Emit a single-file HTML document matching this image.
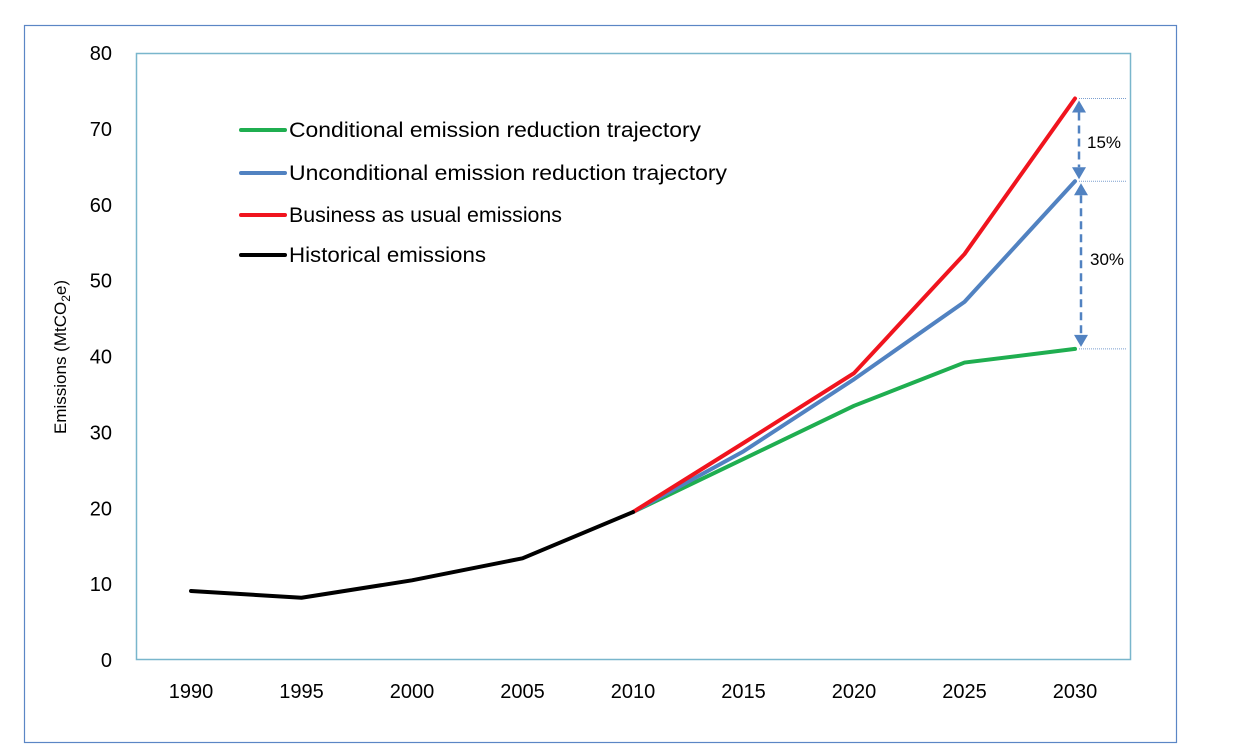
<!DOCTYPE html>
<html><head><meta charset="utf-8"><style>
html,body{margin:0;padding:0;background:#fff;}
svg{display:block;font-family:"Liberation Sans",sans-serif;}
</style></head><body>
<svg id="chart" width="1244" height="752">
<rect x="24.5" y="25.5" width="1152" height="717" fill="none" stroke="#5b86c5" stroke-width="1.2"/>
<rect x="136.5" y="53.5" width="994" height="606" fill="none" stroke="#79b6cc" stroke-width="1.5"/>
<text transform="translate(66,357) rotate(-90)" text-anchor="middle" font-size="17">Emissions (MtCO<tspan font-size="12" dy="4">2</tspan><tspan dy="-4">e)</tspan></text>
<g id="yt"></g><g id="xt"></g><g id="series"></g><g id="legend"></g><g id="annot"></g>
</svg>
<script>
const years=[1990,1995,2000,2005,2010,2015,2020,2025,2030];
const yTicks=[0,10,20,30,40,50,60,70,80];
const historical=[9.1,8.2,10.5,13.4,19.5];
const histYears=[1990,1995,2000,2005,2010];
const projYears=[2010,2015,2020,2025,2030];
const conditional=[19.5,26.5,33.5,39.2,41.0];
const unconditional=[19.5,27.5,37.0,47.2,63.1];
const bau=[19.5,28.6,37.8,53.5,74.0];
const legendLabels=["Conditional emission reduction trajectory","Unconditional emission reduction trajectory","Business as usual emissions","Historical emissions"];
const legendWidths=[412,438,273,197];
const NS="http://www.w3.org/2000/svg";
const X=y=>191+(y-1990)*(1075-191)/40;
const Y=v=>660-v*(660-53)/80;
function mk(t,a,p){const e=document.createElementNS(NS,t);for(const k in a)e.setAttribute(k,a[k]);(p||document.getElementById('chart')).appendChild(e);return e;}
const yt=document.getElementById('yt');
yTicks.forEach(v=>{const e=mk('text',{x:112,y:Y(v)+7,'text-anchor':'end','font-size':20},yt);e.textContent=v;

});
const xt=document.getElementById('xt');
years.forEach(v=>{const e=mk('text',{x:X(v),y:698,'text-anchor':'middle','font-size':20},xt);e.textContent=v;

});
const sg=document.getElementById('series');
function line(ys,vals,color,name){const p=mk('polyline',{points:ys.map((y,i)=>X(y)+','+Y(vals[i])).join(' '),fill:'none',stroke:color,'stroke-width':4,'stroke-linejoin':'round','stroke-linecap':'round'},sg);

}
line(projYears,conditional,'#1fae50','conditional-line');
line(projYears,unconditional,'#5182c1','unconditional-line');
line(projYears,bau,'#f0141e','bau-line');
line(histYears,historical,'#000','historical-line');
const lg=document.getElementById('legend');
const lc=['#1fae50','#5182c1','#f0141e','#000'];const ly=[130,173,215,255];
legendLabels.forEach((t,i)=>{const l=mk('line',{x1:241,x2:285,y1:ly[i],y2:ly[i],stroke:lc[i],'stroke-width':4,'stroke-linecap':'round'},lg);


const e=mk('text',{x:289,y:ly[i]+7,'font-size':21,textLength:legendWidths[i],lengthAdjust:'spacingAndGlyphs'},lg);e.textContent=t;

});
const an=document.getElementById('annot');
const xa=X(2030);
[bau[4],unconditional[4],conditional[4]].forEach(v=>{const l=mk('line',{x1:xa+4,x2:1126,y1:Y(v),y2:Y(v),stroke:'#7b9fcf','stroke-width':1,'stroke-dasharray':'1,1'},an);

});
function arrow(v1,v2,xx,name){const y1=Y(v1)+14,y2=Y(v2)-14;
const l=mk('line',{x1:xx,x2:xx,y1:y1,y2:y2,stroke:'#5182c1','stroke-width':2.5,'stroke-dasharray':'8,5'},an);


mk('polygon',{points:`${xx-7},${y1} ${xx+7},${y1} ${xx},${Y(v1)+2}`,fill:'#5182c1'},an);
mk('polygon',{points:`${xx-7},${y2} ${xx+7},${y2} ${xx},${Y(v2)-2}`,fill:'#5182c1'},an);}
arrow(bau[4],unconditional[4],xa+4,'arrow-15pct');
arrow(unconditional[4],conditional[4],xa+6,'arrow-30pct');
let t=mk('text',{x:1087,y:148,'font-size':17},an);t.textContent='15%';


t=mk('text',{x:1090,y:265,'font-size':17},an);t.textContent='30%';


</script>
</body></html>
